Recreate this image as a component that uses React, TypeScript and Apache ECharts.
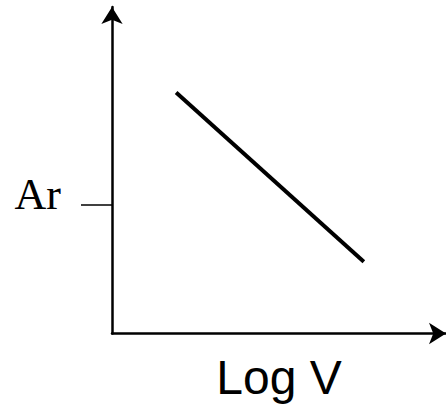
import React, { useEffect, useRef } from "react";
import * as echarts from "echarts";

// Straight-line relation: Ar falls as Log V grows
const lineX = [19.2, 75.4];
const lineY = [73.8, 22.0];
const markValue = [39.4];
const markLabel = ["Ar"];
const xName = "Log V";

export default function App() {
  const ref = useRef<HTMLDivElement>(null);

  useEffect(() => {
    if (!ref.current) return;
    const chart = echarts.init(ref.current, null, { renderer: "svg" });
    const data = lineX.map((x, i) => [x, lineY[i]]);
    chart.setOption({
      animation: false,
      backgroundColor: "#ffffff",
      grid: { left: 112, right: 0, top: 7, bottom: 75.5, containLabel: false },
      xAxis: {
        type: "value",
        min: 0,
        max: 100,
        name: xName,
        nameLocation: "middle",
        nameGap: 20,
        nameTextStyle: {
          fontSize: 48,
          fontFamily: "Liberation Sans, Arial, sans-serif",
          color: "#000",
          verticalAlign: "top",
        },
        axisLine: {
          show: true,
          symbol: ["none", "arrow"],
          symbolSize: [16, 17],
          lineStyle: { color: "#000", width: 2.5 },
        },
        axisTick: { show: false },
        axisLabel: { show: false },
        splitLine: { show: false },
      },
      yAxis: {
        type: "value",
        min: 0,
        max: 100,
        axisLine: {
          show: true,
          symbol: ["none", "arrow"],
          symbolSize: [16, 17],
          lineStyle: { color: "#000", width: 2.5 },
        },
        axisTick: {
          show: true,
          customValues: markValue,
          length: 31,
          inside: false,
          lineStyle: { color: "#000", width: 1.5 },
        },
        axisLabel: {
          show: true,
          customValues: markValue,
          formatter: () => markLabel[0],
          margin: 51,
          fontSize: 44,
          lineHeight: 20,
          verticalAlign: "bottom",
          fontFamily: "Liberation Serif, Times New Roman, serif",
          color: "#000",
        },
        splitLine: { show: false },
      },
      series: [
        {
          type: "line",
          data,
          symbol: "none",
          lineStyle: { color: "#000", width: 4, cap: "butt" },
        },
      ],
    });
    return () => chart.dispose();
  }, []);

  return (
    <div
      ref={ref}
      style={{ position: "fixed", left: 0, top: 0, width: 446, height: 409 }}
    />
  );
}
